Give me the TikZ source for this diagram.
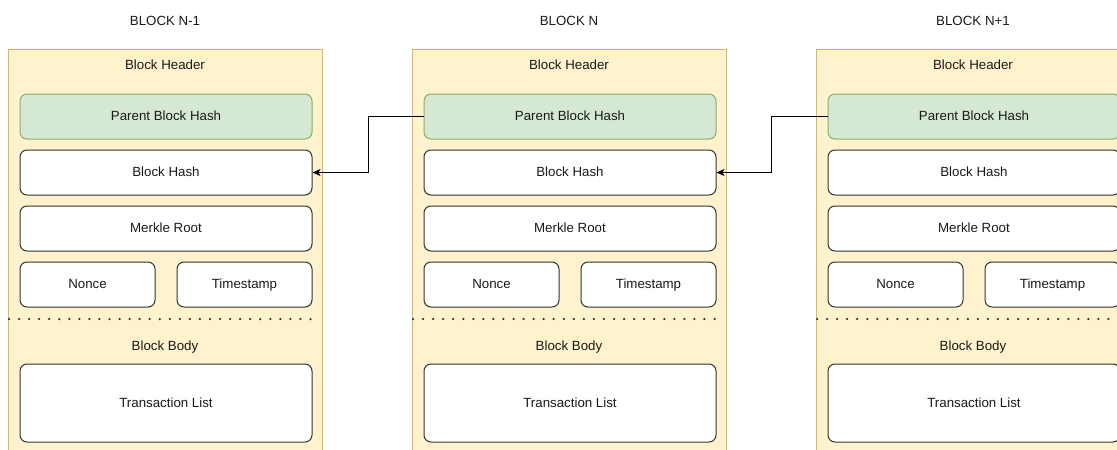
\documentclass[tikz,border=0pt]{standalone}
\usepackage{fontspec}
\setmainfont{Liberation Sans}
\usetikzlibrary{arrows.meta}
\definecolor{yfill}{HTML}{FFF2CC}
\definecolor{ydraw}{HTML}{D6B656}
\definecolor{gfill}{HTML}{D5E8D4}
\definecolor{gdraw}{HTML}{82B366}
\definecolor{txt}{HTML}{1A1A1A}
\definecolor{edge}{HTML}{333333}
\tikzset{
  lbl/.style={inner sep=0pt, text=txt, font=\fontsize{13.3}{15}\selectfont,
    text height=9.6pt, text depth=1pt},
  field/.style={lbl, draw=edge, fill=white, rounded corners=7pt, line width=1pt},
  parent/.style={field, draw=gdraw, fill=gfill},
  arr/.style={draw=black, line width=1pt, -{Stealth[length=8pt,width=7pt,inset=2pt]}},
  sep/.style={draw=edge, line width=2.5pt, line cap=round, dash pattern=on 0pt off 10.05pt}
}
\begin{document}
\begin{tikzpicture}[x=1pt,y=-1pt]
\useasboundingbox (0,0) rectangle (1117,450);
\clip (0,0) rectangle (1117,450);
\foreach \i/\dx/\ttl in {a/0/{BLOCK N-1}, b/404/{BLOCK N}, c/808/{BLOCK N+1}}{
  \begin{scope}[xshift=\dx pt]
    \draw[draw=ydraw, fill=yfill, line width=1pt] (8,49) rectangle (322,470);
    \node[lbl] (title\i) at (165,21) {\ttl};
    \node[lbl] (hdr\i) at (165,65.5) {Block Header};
    \node[parent, minimum width=292pt, minimum height=45pt] (ph\i) at (166,116.5) {Parent Block Hash};
    \node[field, minimum width=292pt, minimum height=45pt] (bh\i) at (166,172.5) {Block Hash};
    \node[field, minimum width=292pt, minimum height=45pt] (mr\i) at (166,228.5) {Merkle Root};
    \node[field, minimum width=135pt, minimum height=45pt] (no\i) at (87.5,284.5) {Nonce};
    \node[field, minimum width=135pt, minimum height=45pt] (ts\i) at (244.5,284.5) {Timestamp};
    \draw[sep] (9,319) -- (320,319);
    \node[lbl] (bdy\i) at (165,346) {Block Body};
    \node[field, minimum width=292pt, minimum height=78pt] (tl\i) at (166,403) {Transaction List};
  \end{scope}
}
\draw[arr] (phb.west) -- ++(-55,0) |- (bha.east);
\draw[arr] (phc.west) -- ++(-56,0) |- (bhb.east);
\end{tikzpicture}
\end{document}
